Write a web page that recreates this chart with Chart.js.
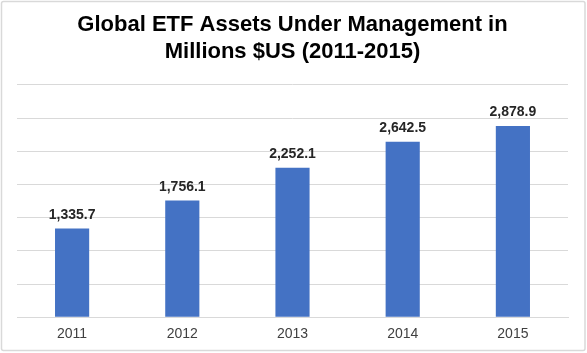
<!DOCTYPE html>
<html>
<head>
<meta charset="utf-8">
<script src="https://cdn.jsdelivr.net/npm/chart.js@4"></script>
<style>
  html, body { margin: 0; padding: 0; background: #fff; }
  #wrap { width: 587px; height: 353px; position: relative; }
</style>
</head>
<body>
<div id="wrap"><canvas id="etf"></canvas></div>
<script>
const years = ['2011', '2012', '2013', '2014', '2015'];
const assetsMillions = [1335.7, 1756.1, 2252.1, 2642.5, 2878.9];
const titleLines = ['Global ETF Assets Under Management in', 'Millions $US (2011-2015)'];

const fmt = v => v.toLocaleString('en-US', { minimumFractionDigits: 1, maximumFractionDigits: 1 });

// light outer frame, like the spreadsheet chart border
const framePlugin = {
  id: 'frame',
  beforeDraw(chart) {
    const ctx = chart.ctx;
    ctx.save();
    ctx.fillStyle = '#fff';
    ctx.fillRect(0, 0, chart.width, chart.height);
    ctx.strokeStyle = '#d9d9d9';
    ctx.lineWidth = 1.5;
    ctx.beginPath();
    ctx.roundRect(1.5, 1.5, chart.width - 3.5, chart.height - 4, 2);
    ctx.stroke();
    ctx.restore();
  }
};

// value labels above each bar
const valueLabels = {
  id: 'valueLabels',
  afterDatasetsDraw(chart) {
    const ctx = chart.ctx;
    const meta = chart.getDatasetMeta(0);
    ctx.save();
    ctx.font = 'bold 14px "Liberation Sans", Arial, sans-serif';
    ctx.fillStyle = '#262626';
    ctx.textAlign = 'center';
    ctx.textBaseline = 'alphabetic';
    meta.data.forEach((bar, i) => {
      ctx.fillText(fmt(assetsMillions[i]), bar.x, bar.y - 10);
    });
    ctx.restore();
  }
};

new Chart(document.getElementById('etf'), {
  type: 'bar',
  data: {
    labels: years,
    datasets: [{
      data: assetsMillions,
      backgroundColor: '#4472c4',
      borderWidth: 0,
      barPercentage: 0.31,
      categoryPercentage: 1
    }]
  },
  options: {
    responsive: true,
    maintainAspectRatio: false,
    animation: false,
    layout: { padding: { left: 17, right: 19, top: 4, bottom: 1 } },
    plugins: {
      legend: { display: false },
      tooltip: { enabled: false },
      title: {
        display: true,
        text: titleLines,
        color: '#000',
        font: { family: '"Liberation Sans", Arial, sans-serif', size: 22, weight: 'bold', lineHeight: 1.2 },
        padding: { top: 8, bottom: 20 }
      }
    },
    scales: {
      x: {
        grid: { display: false, drawTicks: false },
        border: { color: '#d9d9d9', width: 1 },
        ticks: {
          color: '#404040',
          padding: 9,
          font: { family: '"Liberation Sans", Arial, sans-serif', size: 14 }
        }
      },
      y: {
        min: 0,
        max: 3500,
        ticks: { display: false, stepSize: 500 },
        grid: { color: '#d9d9d9', drawTicks: false, lineWidth: 1 },
        border: { display: false }
      }
    }
  },
  plugins: [framePlugin, valueLabels]
});
</script>
</body>
</html>
